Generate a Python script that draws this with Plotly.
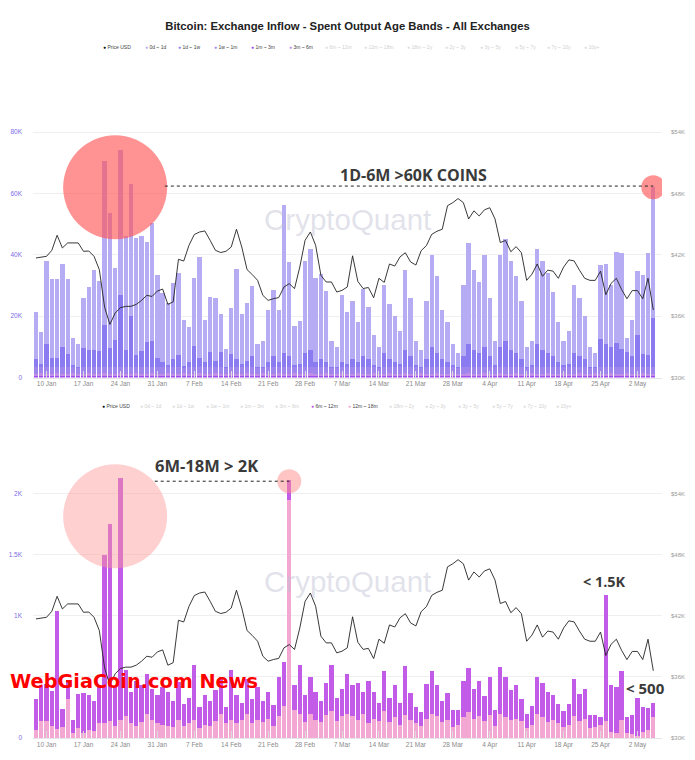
import plotly.graph_objects as go
import pandas as pd

dates = pd.date_range("2022-01-08", "2022-05-05", freq="D")

# BTC price (USD thousands)
price = [41.69, 41.78, 41.85, 42.44, 43.91, 42.67, 43.16, 43.16, 43.16, 42.34, 42.37, 41.85, 40.55, 36.89, 35.19,
         36.30, 36.83, 36.96, 36.96, 37.15, 37.54, 38.03, 37.93, 38.45, 38.65, 37.15, 37.40, 41.56, 41.39, 42.93,
         43.98, 44.23, 44.33, 43.42, 42.44, 42.22, 42.34, 42.76, 44.50, 42.76, 40.55, 40.06, 39.50, 38.03, 37.54,
         37.71, 37.81, 38.85, 39.18, 38.69, 40.80, 43.42, 44.23, 42.93, 39.99, 39.34, 39.34, 38.36, 38.52, 38.85,
         41.9, 39.4, 38.7, 38.8, 37.8, 39.7, 39.3, 41.1, 40.9, 41.8, 42.2, 41.3, 41.0, 42.4, 42.9, 44.0, 44.3, 44.5,
         46.8, 47.1, 47.5, 47.1, 45.5, 46.3, 45.8, 46.4, 46.6, 45.5, 43.2, 43.4, 42.3, 42.8, 42.2, 39.5, 40.1, 41.1,
         39.9, 40.5, 40.4, 39.7, 40.8, 41.5, 41.4, 40.5, 39.7, 39.5, 39.5, 40.4, 38.1, 39.2, 39.7, 38.6, 37.7, 38.5,
         38.5, 37.7, 39.7, 36.6]

# Top chart: inflow by age band (thousand BTC)
b_0d_1d = [15.6, 10.3, 26.9, 25.5, 25.5, 26.9, 24.5, 8.8, 7.3, 16.3, 20.5, 25.9, 23.0, 53.5, 44.1, 23.3, 47.2, 36.9,
           43.1, 38.2, 37.2, 32.7, 38.4, 26.9, 22.4, 20.2, 25.0, 26.6, 15.0, 11.4, 22.3, 33.0, 13.6, 17.9, 20.7, 12.4,
           5.9, 14.8, 29.4, 16.1, 19.1, 23.0, 7.5, 8.3, 17.1, 21.4, 17.1, 48.2, 30.7, 12.9, 13.9, 29.9, 32.8, 27.4,
           27.6, 23.1, 8.3, 6.4, 22.0, 17.0, 19, 13, 22, 17, 10, 6.5, 22, 18, 15, 10.5, 26, 19, 8, 5.5, 19, 30, 25,
           16, 13, 7, 4.5, 23, 33, 26, 23, 30, 19, 8, 30, 33, 29, 25, 19, 6.5, 8, 31, 29, 26, 21, 13, 8, 10.5, 22,
           19, 14, 6.5, 4.5, 24.2, 25.9, 20, 29.6, 31.2, 4.7, 11.7, 20.9, 25.8, 33.4, 42.7]
b_1d_1w = [2.6, 1.2, 7.7, 3.2, 3.2, 6.7, 4.2, 0.7, 0.2, 6.2, 5.7, 5.7, 5.2, 13.7, 6.2, 9.0, 23.5, 5.8, 16.6, 3.9, 5.5,
           8.2, 8.5, 3.1, 1.7, 0.8, 2.6, 4.1, 0.6, 1.9, 6.9, 3.0, 1.9, 5.0, 2.0, 4.9, 0.2, 4.5, 2.8, 1.2, 2.0, 3.6,
           0.2, 0.2, 1.7, 3.7, 1.7, 4.7, 3.7, 0.7, 1.2, 4.7, 5.7, 1.7, 2.7, 1.7, 0.2, 0.2, 1.7, 1.2, 2.7, 1.7, 3.7,
           2.7, 0.7, 0.2, 4.7, 2.7, 1.7, 1.2, 5.7, 3.7, 0.7, 0.2, 2.7, 6.7, 4.7, 2.7, 1.7, 0.7, 0.2, 3.7, 7.7, 5.7,
           4.7, 6.7, 3.7, 0.7, 6.7, 8.7, 5.7, 4.7, 2.7, 0.2, 0.7, 7.7, 5.7, 4.7, 3.7, 1.7, 0.7, 1.2, 4.7, 3.7, 2.7,
           0.2, 0.2, 9.1, 7.7, 6.7, 7.9, 6.1, 5.0, 3.6, 10.4, 4.4, 3.9, 16.1]
b_1w_1m = [2.0, 1.8, 2.2, 2.0, 1.9, 2.1, 2.0, 1.8, 2.2, 2.0, 1.9, 2.1, 2.0, 1.8, 2.2, 2.0, 1.9, 2.1, 2.0, 1.8, 2.2,
           2.0, 1.9, 2.1, 2.0, 1.8, 2.2, 2.0, 1.9, 2.1, 2.0, 1.8, 2.2, 2.0, 1.9, 2.1, 2.0, 1.8, 2.2, 2.0, 1.9, 2.1,
           2.0, 1.8, 2.2, 2.0, 1.9, 2.1, 2.0, 1.8, 2.2, 2.0, 1.9, 2.1, 2.0, 1.8, 2.2, 2.0, 1.9, 2.1, 2.0, 1.8, 2.2,
           2.0, 1.9, 2.1, 2.0, 1.8, 2.2, 2.0, 1.9, 2.1, 2.0, 1.8, 2.2, 2.0, 1.9, 2.1, 2.0, 1.8, 2.2, 2.0, 1.9, 2.1,
           2.0, 1.8, 2.2, 2.0, 1.9, 2.1, 2.0, 1.8, 2.2, 2.0, 1.9, 2.1, 2.0, 1.8, 2.2, 2.0, 1.9, 2.1, 2.0, 1.8, 2.2,
           2.0, 1.9, 2.1, 2.0, 1.8, 2.2, 2.0, 1.9, 2.1, 2.0, 1.8, 2.2, 2.0]
b_1m_3m = [0.9, 1.1, 0.7, 0.9, 1.0, 0.8, 0.9, 1.1, 0.7, 0.9, 1.0, 0.8, 0.9, 1.1, 0.7, 0.9, 1.0, 0.8, 0.9, 1.1, 0.7,
           0.9, 1.0, 0.8, 0.9, 1.1, 0.7, 0.9, 1.0, 0.8, 0.9, 1.1, 0.7, 0.9, 1.0, 0.8, 0.9, 1.1, 0.7, 0.9, 1.0, 0.8,
           0.9, 1.1, 0.7, 0.9, 1.0, 0.8, 0.9, 1.1, 0.7, 0.9, 1.0, 0.8, 0.9, 1.1, 0.7, 0.9, 1.0, 0.8, 0.9, 1.1, 0.7,
           0.9, 1.0, 0.8, 0.9, 1.1, 0.7, 0.9, 1.0, 0.8, 0.9, 1.1, 0.7, 0.9, 1.0, 0.8, 0.9, 1.1, 0.7, 0.9, 1.0, 0.8,
           0.9, 1.1, 0.7, 0.9, 1.0, 0.8, 0.9, 1.1, 0.7, 0.9, 1.0, 0.8, 0.9, 1.1, 0.7, 0.9, 1.0, 0.8, 0.9, 1.1, 0.7,
           0.9, 1.0, 0.8, 0.9, 1.1, 0.7, 0.9, 1.0, 0.8, 0.9, 1.1, 0.7, 0.9]
b_3m_6m = [0.4, 0.4, 0.4, 0.4, 0.4, 0.4, 0.4, 0.4, 0.4, 0.4, 0.4, 0.4, 0.4, 0.4, 0.4, 0.4, 0.4, 0.4, 0.4, 0.4, 0.4,
           0.4, 0.4, 0.4, 0.4, 0.4, 0.4, 0.4, 0.4, 0.4, 0.4, 0.4, 0.4, 0.4, 0.4, 0.4, 0.4, 0.4, 0.4, 0.4, 0.4, 0.4,
           0.4, 0.4, 0.4, 0.4, 0.4, 0.4, 0.4, 0.4, 0.4, 0.4, 0.4, 0.4, 0.4, 0.4, 0.4, 0.4, 0.4, 0.4, 0.4, 0.4, 0.4,
           0.4, 0.4, 0.4, 0.4, 0.4, 0.4, 0.4, 0.4, 0.4, 0.4, 0.4, 0.4, 0.4, 0.4, 0.4, 0.4, 0.4, 0.4, 0.4, 0.4, 0.4,
           0.4, 0.4, 0.4, 0.4, 0.4, 0.4, 0.4, 0.4, 0.4, 0.4, 0.4, 0.4, 0.4, 0.4, 0.4, 0.4, 0.4, 0.4, 0.4, 0.4, 0.4,
           0.4, 0.4, 0.4, 0.4, 0.4, 0.4, 0.4, 0.4, 0.4, 0.4, 0.4, 0.4, 0.4]

# Bottom chart: inflow by age band (BTC)
b_12m_18m = [66, 139, 139, 98, 74, 90, 317, 43, 82, 43, 66, 55, 123, 120, 140, 100, 150, 180, 120, 100, 130, 200, 150,
             120, 110, 100, 90, 150, 100, 120, 150, 80, 110, 100, 140, 200, 120, 150, 120, 150, 200, 120, 150, 130,
             160, 100, 180, 260, 1950, 230, 200, 130, 200, 150, 130, 190, 220, 140, 180, 200, 180, 150, 200, 120, 160,
             140, 220, 130, 170, 110, 190, 150, 120, 100, 160, 200, 180, 130, 150, 90, 110, 170, 210, 160, 180, 140,
             190, 100, 200, 170, 150, 160, 140, 80, 110, 200, 170, 130, 150, 120, 90, 110, 180, 140, 160, 80, 90, 110,
             142, 52, 41, 148, 41, 34, 16, 52, 66, 175]
b_6m_12m = [251, 295, 304, 290, 961, 145, 158, 102, 279, 323, 286, 251, 311, 1380, 1614, 320, 1980, 380, 260, 370, 300,
            320, 250, 230, 310, 280, 210, 310, 180, 210, 450, 170, 240, 200, 250, 300, 130, 410, 230, 140, 280, 200,
            270, 170, 220, 170, 320, 360, 160, 200, 400, 220, 300, 230, 170, 260, 380, 190, 220, 320, 250, 300, 180,
            350, 220, 150, 330, 200, 260, 180, 400, 220, 130, 110, 280, 350, 250, 170, 220, 140, 120, 300, 360, 240,
            290, 200, 310, 130, 380, 330, 240, 270, 180, 120, 150, 300, 280, 250, 200, 160, 130, 170, 300, 220, 240,
            110, 100, 65, 1024, 382, 374, 401, 128, 152, 309, 199, 177, 114]

FIG_W, FIG_H = 695, 760
L, R = 33, 33
PW = FIG_W - L - R


def px(xp):
    return (xp - L) / PW


def py(yp):
    return 1 - yp / FIG_H


fig = go.Figure()

top_series = [
    ("3m ~ 6m", b_3m_6m, "#a04df0"),
    ("1m ~ 3m", b_1m_3m, "#c08ee6"),
    ("1w ~ 1m", b_1w_1m, "#9f86ec"),
    ("1d ~ 1w", b_1d_1w, "#8a7bf0"),
    ("0d ~ 1d", b_0d_1d, "#b6acf3"),
]
for name, vals, col in top_series:
    fig.add_trace(go.Bar(x=dates, y=vals, name=name, marker=dict(color=col, line=dict(width=0)),
                         xaxis="x", yaxis="y", showlegend=False))

bot_series = [
    ("12m ~ 18m", b_12m_18m, "#f2a8d2"),
    ("6m ~ 12m", b_6m_12m, "#c25be8"),
]
for name, vals, col in bot_series:
    fig.add_trace(go.Bar(x=dates, y=vals, name=name, marker=dict(color=col, line=dict(width=0)),
                         xaxis="x2", yaxis="y2", showlegend=False))

fig.add_trace(go.Scatter(x=dates, y=price, mode="lines", line=dict(color="#222", width=0.9),
                         xaxis="x", yaxis="y3", showlegend=False))
fig.add_trace(go.Scatter(x=dates, y=price, mode="lines", line=dict(color="#222", width=0.9),
                         xaxis="x2", yaxis="y4", showlegend=False))

xr = ["2022-01-07 10:20", "2022-05-06 15:35"]
xcommon = dict(range=xr, type="date", tick0="2022-01-10", dtick=7 * 86400000, tickformat="%-d %b",
               tickfont=dict(size=6.5, color="#8a8a8a", family="Liberation Sans"), showgrid=False,
               showline=True, linecolor="#e6e6e6", linewidth=1, ticks="inside", ticklen=7,
               tickcolor="#dcdcdc", tickwidth=1, zeroline=False)
top_dom = [py(379), py(71)]
bot_dom = [py(741), py(434)]
lfont = dict(size=6.5, color="#7a6de6", family="Liberation Sans")
rfont = dict(size=6, color="#9a9a9a", family="Liberation Sans")

fig.update_layout(
    width=FIG_W, height=FIG_H, margin=dict(l=L, r=R, t=0, b=0),
    paper_bgcolor="white", plot_bgcolor="white", barmode="stack", bargap=0.18,
    showlegend=False,
    title=dict(text="<b>Bitcoin: Exchange Inflow - Spent Output Age Bands - All Exchanges</b>",
               x=0.5, xanchor="center", y=py(26), yanchor="middle",
               font=dict(size=11.3, color="#222", family="Liberation Sans")),
    xaxis=dict(domain=[0, 1], anchor="y", **xcommon),
    xaxis2=dict(domain=[0, 1], anchor="y2", **xcommon),
    yaxis=dict(domain=top_dom, range=[0, 100], tickvals=[0, 20, 40, 60, 80, 100],
               ticktext=["0", "20K", "40K", "60K", "80K", ""], tickfont=lfont, gridcolor="#efefef",
               zeroline=False, ticklabelstandoff=10),
    yaxis3=dict(overlaying="y", side="right", anchor="x", range=[30, 60],
                tickvals=[30, 36, 42, 48, 54, 60], ticktext=["$30K", "$36K", "$42K", "$48K", "$54K", ""],
                tickfont=rfont, showgrid=False, zeroline=False, ticklabelstandoff=8),
    yaxis2=dict(domain=bot_dom, range=[0, 2500], tickvals=[0, 500, 1000, 1500, 2000, 2500],
                ticktext=["0", "", "1K", "1.5K", "2K", ""], tickfont=lfont, gridcolor="#efefef",
                zeroline=False, ticklabelstandoff=10),
    yaxis4=dict(overlaying="y2", side="right", anchor="x2", range=[30, 60],
                tickvals=[30, 36, 42, 48, 54, 60], ticktext=["$30K", "$36K", "$42K", "$48K", "$54K", ""],
                tickfont=rfont, showgrid=False, zeroline=False, ticklabelstandoff=8),
)


def note(text, xp, yp, font):
    fig.add_annotation(text=text, xref="paper", yref="paper", x=px(xp), y=py(yp),
                       xanchor="center", yanchor="middle", showarrow=False, font=font)


# Watermarks
for yy in (220, 584):
    note("CryptoQuant", 348, yy, dict(size=29.5, color="rgba(190,190,210,0.45)", family="Liberation Sans"))

# Legends (custom rows)
legend_names = ["Price USD", "0d ~ 1d", "1d ~ 1w", "1w ~ 1m", "1m ~ 3m", "3m ~ 6m", "6m ~ 12m", "12m ~ 18m",
                "18m ~ 2y", "2y ~ 3y", "3y ~ 5y", "5y ~ 7y", "7y ~ 10y", "10y+"]
legend_cols = ["#111", "#b6acf3", "#8a7bf0", "#9f86ec", "#a04df0", "#c08ee6", "#c25be8", "#f2a8d2",
               "#ddd", "#ddd", "#ddd", "#ddd", "#ddd", "#ddd"]
top_x = [103, 145, 178, 214, 251, 289, 325, 364, 407, 445, 480, 515, 547, 584]
bot_x = [102, 140, 172, 206, 240, 275, 311, 348, 389, 425, 458, 492, 523, 556]
top_active = {0, 1, 2, 3, 4, 5}
bot_active = {0, 6, 7}
for row_y, xs, active in ((47, top_x, top_active), (408, bot_x, bot_active)):
    for i, (nm, xx) in enumerate(zip(legend_names, xs)):
        on = i in active
        dot = legend_cols[i] if on else "#dddddd"
        tcol = "#444" if on else "#cfcfcf"
        fig.add_annotation(text=f"<span style='color:{dot}'>●</span> {nm}", xref="paper", yref="paper",
                           x=px(xx - 2), y=py(row_y), xanchor="left", yanchor="middle", showarrow=False,
                           font=dict(size=5, color=tcol, family="Liberation Sans"))

# Highlight circles and dotted guide lines
shapes = [
    dict(type="circle", xref="x", yref="y", xsizemode="pixel", ysizemode="pixel",
         xanchor="2022-01-23", yanchor=62, x0=-52, x1=52, y0=-52, y1=52,
         fillcolor="rgba(255,80,80,0.62)", line=dict(width=0)),
    dict(type="circle", xref="x", yref="y", xsizemode="pixel", ysizemode="pixel",
         xanchor="2022-05-05", yanchor=62, x0=-12, x1=12, y0=-12, y1=12,
         fillcolor="rgba(255,80,80,0.62)", line=dict(width=0)),
    dict(type="line", xref="x", yref="y", x0="2022-02-01 10:00", x1="2022-05-05", y0=62.4, y1=62.4,
         line=dict(color="#222", width=1, dash="dot")),
    dict(type="circle", xref="x2", yref="y2", xsizemode="pixel", ysizemode="pixel",
         xanchor="2022-01-23", yanchor=1814, x0=-52, x1=52, y0=-52, y1=52,
         fillcolor="rgba(255,150,150,0.45)", line=dict(width=0)),
    dict(type="circle", xref="x2", yref="y2", xsizemode="pixel", ysizemode="pixel",
         xanchor="2022-02-25", yanchor=2100, x0=-12, x1=12, y0=-12, y1=12,
         fillcolor="rgba(255,140,140,0.5)", line=dict(width=0)),
    dict(type="line", xref="x2", yref="y2", x0="2022-01-30 12:00", x1="2022-02-25", y0=2100, y1=2100,
         line=dict(color="#222", width=1, dash="dot")),
]
fig.update_layout(shapes=shapes)

note("<b>1D-6M >60K COINS</b>", 413, 176, dict(family="Open Sans", color="#3a3a3a", size=16))
note("<b>6M-18M > 2K</b>", 206, 467, dict(family="Open Sans", color="#3a3a3a", size=16.5))
note("<b>< 1.5K</b>", 604, 584, dict(family="Open Sans", color="#3a3a3a", size=14.4))
note("<b>< 500</b>", 645, 691, dict(family="Open Sans", color="#3a3a3a", size=15))
note("<b>WebGiaCoin.com News</b>", 134, 684, dict(family="DejaVu Sans", color="#ff0000", size=19.3))

fig.write_html("out.html")
